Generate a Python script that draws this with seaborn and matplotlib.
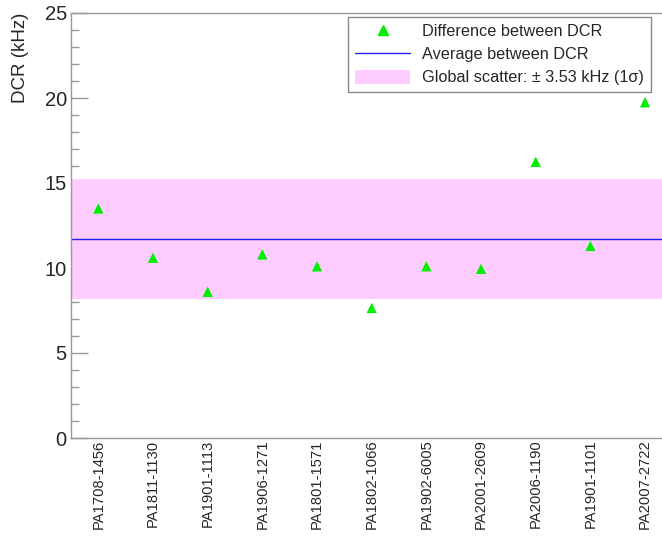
import pandas as pd
import seaborn as sns
import matplotlib.pyplot as plt
from matplotlib.lines import Line2D
from matplotlib.patches import Patch
from matplotlib.ticker import MultipleLocator

# values
sensors = ["PA1708-1456", "PA1811-1130", "PA1901-1113", "PA1906-1271",
           "PA1801-1571", "PA1802-1066", "PA1902-6005", "PA2001-2609",
           "PA2006-1190", "PA1901-1101", "PA2007-2722"]
dcr_diff = [13.5, 10.6, 8.6, 10.8, 10.1, 7.65, 10.1, 9.95, 16.25, 11.3, 19.75]
mean_dcr = 11.71
sigma = 3.53


def make_plot(data):
    sns.set_style("white")
    plt.rcParams["font.family"] = ["Liberation Sans", "DejaVu Sans"]

    fig = plt.figure(figsize=(6.62, 5.39), dpi=100)
    ax = fig.add_axes([71 / 662, 101 / 539, 591 / 662, 425 / 539])

    ax.axhspan(mean_dcr - sigma, mean_dcr + sigma, color="#ffccff", lw=0, zorder=1)
    ax.axhline(mean_dcr, color="#2222ee", lw=1, zorder=2)
    sns.scatterplot(data=data, x="sensor", y="dcr", marker="^", s=55, color="#00ee00",
                    edgecolor="none", ax=ax, zorder=3)

    ax.set_xlim(-0.5, 10.31)
    ax.set_ylim(0, 25)
    ax.set_xlabel("")
    ax.set_ylabel("DCR (kHz)", fontsize=13.5, loc="top")
    ax.yaxis.set_label_coords(-0.086, 1.0)
    ax.yaxis.label.set_va("center")

    ax.yaxis.set_major_locator(MultipleLocator(5))
    ax.yaxis.set_minor_locator(MultipleLocator(1))
    ax.tick_params(axis="y", which="both", left=True)
    ax.tick_params(axis="y", which="major", direction="in", length=12, width=1,
                   color="#999999", labelsize=14.5, pad=3)
    ax.tick_params(axis="y", which="minor", direction="in", length=6, width=1, color="#999999")
    ax.tick_params(axis="x", length=0, labelsize=10.6, pad=1, labelrotation=90)

    for side in ["left", "bottom", "top"]:
        ax.spines[side].set_color("#999999")
        ax.spines[side].set_linewidth(1)
    ax.spines["right"].set_visible(False)

    handles = [
        Line2D([], [], marker="^", ls="none", color="#00ee00", markersize=7),
        Line2D([], [], color="#2222ee", lw=1),
        Patch(facecolor="#ffccff", edgecolor="none"),
    ]
    labels = ["Difference between DCR", "Average between DCR",
              "Global scatter: \u00b1 3.53 kHz (1\u03c3)"]
    leg = ax.legend(handles, labels, loc="upper right", bbox_to_anchor=(0.981, 0.991),
                    fontsize=11.7, frameon=True, fancybox=False, framealpha=1,
                    edgecolor="#888888", handlelength=3.4, handletextpad=0.75,
                    handleheight=1.0, borderpad=0.4, labelspacing=0.45,
                    borderaxespad=0)
    leg.get_frame().set_linewidth(1)

    plt.savefig("out.png", dpi=100)


if __name__ == "__main__":
    data = pd.DataFrame({"sensor": sensors, "dcr": dcr_diff})
    make_plot(data)
